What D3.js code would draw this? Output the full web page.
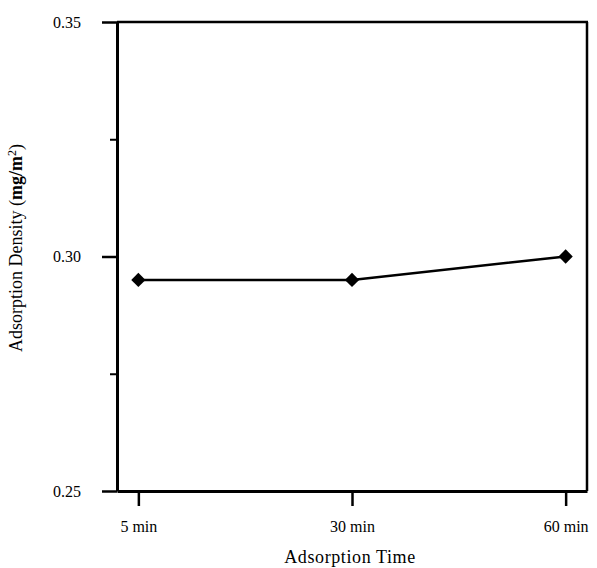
<!DOCTYPE html>
<html>
<head>
<meta charset="utf-8">
<script src="https://cdn.jsdelivr.net/npm/d3@7"></script>
<style>
  html, body { margin: 0; padding: 0; background: #fff; }
  svg { display: block; font-family: "Liberation Serif", "Times New Roman", serif; }
</style>
</head>
<body>
<svg id="chart" width="597" height="568"></svg>
<script>
const categories = ["5 min", "30 min", "60 min"];
const values = [0.295, 0.295, 0.300];
const majorTicks = [0.25, 0.30, 0.35];
const minorTicks = [0.275, 0.325];
const xTitle = "Adsorption Time";

const svg = d3.select("#chart");
const mLeft = 117, mRight = 587, mTop = 22, mBottom = 491;

const x = d3.scalePoint().domain(categories).range([mLeft, mRight]).padding(0.1);
const y = d3.scaleLinear().domain([0.25, 0.35]).range([mBottom, mTop]);

// Left axis (major)
const gy = svg.append("g").attr("transform", `translate(${mLeft},0)`)
  .call(d3.axisLeft(y).tickValues(majorTicks).tickSize(15).tickSizeOuter(0)
    .tickPadding(21).tickFormat(d3.format(".2f")));
gy.select(".domain").attr("stroke", "#000").attr("stroke-width", 3);
gy.selectAll(".tick line").attr("stroke", "#000").attr("stroke-width", 2.5);
gy.selectAll(".tick text").attr("font-size", 16).attr("font-family", "Liberation Serif, serif").attr("fill", "#000");

// Minor ticks
const gm = svg.append("g").attr("transform", `translate(${mLeft},0)`)
  .call(d3.axisLeft(y).tickValues(minorTicks).tickSize(7).tickSizeOuter(0).tickFormat(""));
gm.select(".domain").remove();
gm.selectAll(".tick line").attr("stroke", "#000").attr("stroke-width", 2);

// Bottom axis
const gx = svg.append("g").attr("transform", `translate(0,${mBottom})`)
  .call(d3.axisBottom(x).tickSize(15).tickSizeOuter(0).tickPadding(15));
gx.select(".domain").attr("stroke", "#000").attr("stroke-width", 3);
gx.selectAll(".tick line").attr("stroke", "#000").attr("stroke-width", 2.5);
gx.selectAll(".tick text").attr("font-size", 16).attr("font-family", "Liberation Serif, serif").attr("fill", "#000");

// Frame top and right
svg.append("line").attr("x1", mLeft).attr("x2", mRight + 1).attr("y1", mTop).attr("y2", mTop)
  .attr("stroke", "#000").attr("stroke-width", 2.5);
svg.append("line").attr("x1", mRight).attr("x2", mRight).attr("y1", mTop).attr("y2", mBottom)
  .attr("stroke", "#000").attr("stroke-width", 2.5);

// Line
const line = d3.line().x((d, i) => x(categories[i])).y(d => y(d));
svg.append("path").datum(values).attr("d", line)
  .attr("fill", "none").attr("stroke", "#000").attr("stroke-width", 2.5);

// Markers
svg.selectAll(".pt").data(values).enter().append("path")
  .attr("class", "pt")
  .attr("transform", (d, i) => `translate(${x(categories[i])},${y(d)})`)
  .attr("d", d3.symbol().type(d3.symbolDiamond2).size(130))
  .attr("fill", "#000");

// Axis titles
svg.append("text").attr("x", (mLeft + mRight) / 2 - 2).attr("y", 563)
  .attr("text-anchor", "middle").attr("font-size", 18).attr("letter-spacing", 0.6)
  .text(xTitle);

const yt = svg.append("text").attr("transform", `translate(22,${248}) rotate(-90)`)
  .attr("text-anchor", "middle").attr("font-size", 18);
yt.append("tspan").text("Adsorption Density (");
yt.append("tspan").attr("font-weight", "bold").text("mg/m");
yt.append("tspan").attr("font-size", 12).attr("dy", -6).text("2");
yt.append("tspan").attr("dy", 6).text(")");
</script>
</body>
</html>
